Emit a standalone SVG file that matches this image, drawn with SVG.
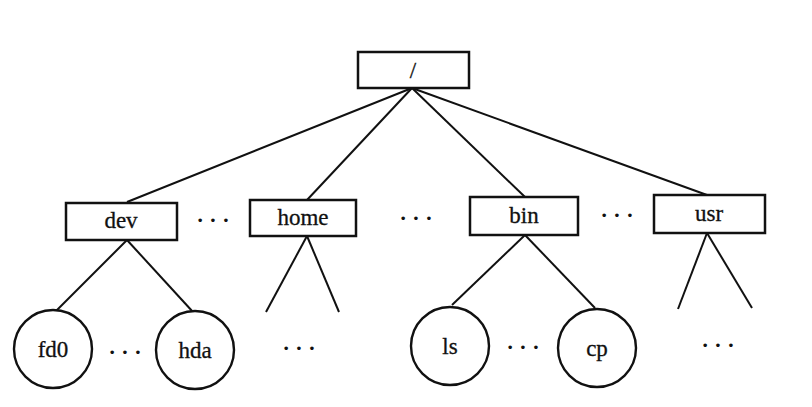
<svg xmlns="http://www.w3.org/2000/svg" width="812" height="407" viewBox="0 0 812 407" font-family="Liberation Serif">
<style>
.box{fill:#fff;stroke:#111;stroke-width:2.5}
.circ{fill:#fff;stroke:#111;stroke-width:2.4}
.edge{stroke:#111;stroke-width:2;fill:none}
.t{font-size:23px;fill:#111;text-anchor:middle;stroke:#111;stroke-width:0.3}
.dots{font-size:22px;font-weight:bold;fill:#111;text-anchor:middle}
</style>
<rect width="812" height="407" fill="#fff"/>
<g id="connectors">
<line class="edge" x1="412" y1="88" x2="127" y2="202"/>
<line class="edge" x1="412" y1="88" x2="307" y2="200"/>
<line class="edge" x1="412" y1="88" x2="525" y2="197"/>
<line class="edge" x1="412" y1="88" x2="707" y2="195"/>
<line class="edge" x1="127" y1="240" x2="55" y2="312"/>
<line class="edge" x1="127" y1="240" x2="193" y2="312"/>
<line class="edge" x1="307" y1="236" x2="266" y2="312"/>
<line class="edge" x1="307" y1="236" x2="339" y2="312"/>
<line class="edge" x1="525" y1="235" x2="452" y2="305"/>
<line class="edge" x1="525" y1="235" x2="595" y2="308"/>
<line class="edge" x1="707" y1="233" x2="678" y2="309"/>
<line class="edge" x1="707" y1="233" x2="752" y2="308"/>
</g>
<g id="root"><rect class="box" x="358" y="52" width="111" height="36"/><text class="t" x="413" y="78">/</text></g>
<g id="dev"><rect class="box" x="66" y="203" width="111" height="37"/><text class="t" x="121" y="228">dev</text></g>
<g id="home"><rect class="box" x="250" y="200" width="106" height="36"/><text class="t" x="303" y="225">home</text></g>
<g id="bin"><rect class="box" x="470" y="197" width="108" height="38"/><text class="t" x="524" y="223">bin</text></g>
<g id="usr"><rect class="box" x="654" y="195" width="111" height="38"/><text class="t" x="709" y="221">usr</text></g>
<g id="fd0"><circle class="circ" cx="53" cy="349" r="39"/><text class="t" x="53" y="357">fd0</text></g>
<g id="hda"><circle class="circ" cx="195" cy="350" r="39"/><text class="t" x="195" y="358">hda</text></g>
<g id="ls"><circle class="circ" cx="450" cy="346" r="39"/><text class="t" x="450" y="354">ls</text></g>
<g id="cp"><circle class="circ" cx="597" cy="348" r="39"/><text class="t" x="597" y="356">cp</text></g>
<g id="ellipses">
<text class="dots" x="213" y="227">· · ·</text>
<text class="dots" x="416" y="225">· · ·</text>
<text class="dots" x="617" y="222">· · ·</text>
<text class="dots" x="125" y="359">· · ·</text>
<text class="dots" x="299" y="355">· · ·</text>
<text class="dots" x="523" y="354">· · ·</text>
<text class="dots" x="718" y="352">· · ·</text>
</g>
</svg>
